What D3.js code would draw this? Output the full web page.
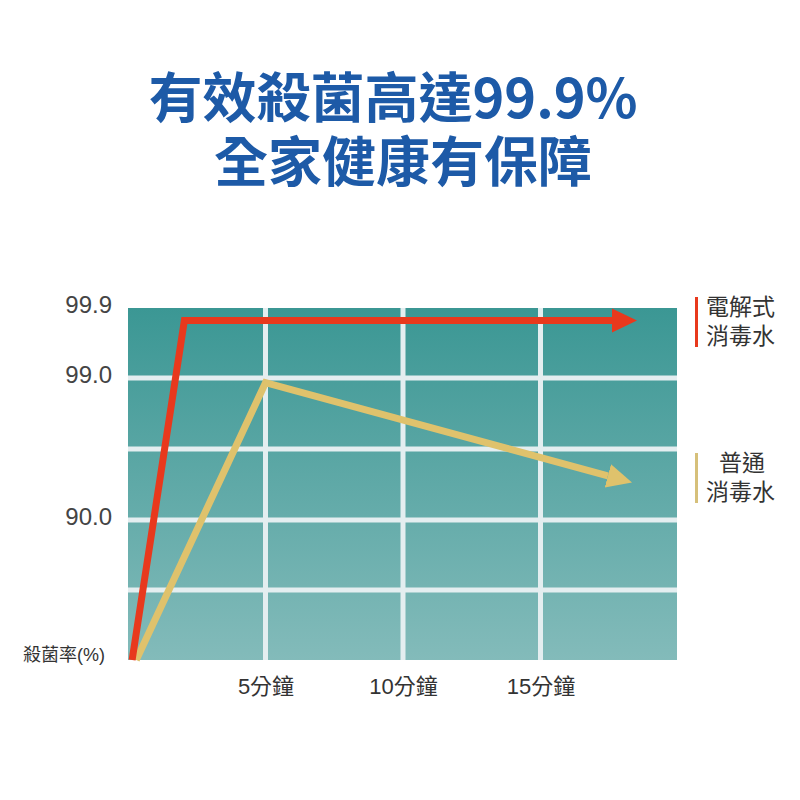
<!DOCTYPE html>
<html>
<head>
<meta charset="utf-8">
<script src="https://cdn.jsdelivr.net/npm/d3@7"></script>
<style>
  body { margin: 0; background: #fff; }
  text { font-family: "Liberation Sans", "Noto Sans CJK TC", sans-serif; }
</style>
</head>
<body>
<svg id="chart" width="800" height="800"></svg>
<script>
// data
const titleLines = ["有效殺菌高達99.9%", "全家健康有保障"];
const xTicks = [5, 10, 15];
const xTickLabels = ["5分鐘", "10分鐘", "15分鐘"];
const yLabelTicks = [90, 99, 99.9];
const yLabelText = ["90.0", "99.0", "99.9"];
const yGridTicks = [45, 90, 94.5, 99];
const yTitle = "殺菌率(%)";

const redMinutes = [0.15, 2.05, 17.6];
const redValues = [0, 99.74, 99.74];
const yellowMinutes = [0.3, 5, 17.45];
const yellowValues = [0, 98.7, 92.8];

const legendRed = ["電解式", "消毒水"];
const legendYellow = ["普通", "消毒水"];

const svg = d3.select("#chart");

var plot = {left: 128, right: 677, top: 308, bottom: 660};

// x: minutes, y: piecewise (the picture is not linear)
const x = d3.scaleLinear().domain([0, 20]).range([plot.left, 678]);
const y = d3.scaleLinear()
  .domain([0, 90, 99, 99.9])
  .range([plot.bottom, 520, 378, plot.top]);

// title
svg.selectAll(".title")
  .data(titleLines)
  .join("text")
  .attr("class", "title")
  .attr("x", (d, i) => i == 0 ? 393 : 403)
  .attr("y", (d, i) => 118 + i * 64)
  .attr("text-anchor", "middle")
  .style("font-family", '"Noto Sans CJK TC", sans-serif')
  .style("font-weight", "bold")
  .style("font-size", "54px")
  .attr("fill", "#1d5aa7")
  .text(d => d);

// background gradient
const defs = svg.append("defs");
const grad = defs.append("linearGradient")
  .attr("id", "bg").attr("x1", 0).attr("y1", 0).attr("x2", 0).attr("y2", 1);
grad.append("stop").attr("offset", "0%").attr("stop-color", "#3b9794");
grad.append("stop").attr("offset", "100%").attr("stop-color", "#83bbba");

svg.append("rect")
  .attr("x", plot.left)
  .attr("y", plot.top)
  .attr("width", plot.right - plot.left)
  .attr("height", plot.bottom - plot.top)
  .attr("fill", "url(#bg)");

// grid lines
const gridColor = "#e4eef0";
svg.append("g")
  .selectAll("line")
  .data(xTicks)
  .join("line")
  .attr("x1", d => x(d)).attr("x2", d => x(d))
  .attr("y1", plot.top).attr("y2", plot.bottom)
  .attr("stroke", gridColor)
  .attr("stroke-width", 5);

svg.append("g")
  .selectAll("line")
  .data(yGridTicks)
  .join("line")
  .attr("x1", plot.left).attr("x2", plot.right)
  .attr("y1", d => y(d)).attr("y2", d => y(d))
  .attr("stroke", gridColor)
  .attr("stroke-width", 5);

// axis labels
const yAxis = d3.axisLeft(y)
  .tickValues(yLabelTicks)
  .tickFormat((d, i) => yLabelText[i])
  .tickSize(0)
  .tickPadding(16);
const gy = svg.append("g")
  .attr("transform", "translate(" + plot.left + ",0)")
  .call(yAxis);
gy.select(".domain").remove();
gy.selectAll("text")
  .attr("dy", "0.2em")
  .style("font-size", "24px")
  .style("font-family", '"Liberation Sans", sans-serif')
  .attr("fill", "#444");

const xAxis = d3.axisBottom(x)
  .tickValues(xTicks)
  .tickFormat((d, i) => xTickLabels[i])
  .tickSize(0)
  .tickPadding(18);
const gx = svg.append("g")
  .attr("transform", "translate(0," + plot.bottom + ")")
  .call(xAxis);
gx.select(".domain").remove();
gx.selectAll("text")
  .style("font-size", "22px")
  .attr("fill", "#333");

svg.append("text")
  .attr("x", 105)
  .attr("y", 661)
  .attr("text-anchor", "end")
  .style("font-size", "18px")
  .attr("fill", "#333")
  .text(yTitle);

// arrow heads
function addArrow(id, color) {
  defs.append("marker")
    .attr("id", id)
    .attr("markerUnits", "userSpaceOnUse")
    .attr("markerWidth", 28)
    .attr("markerHeight", 28)
    .attr("refX", 0)
    .attr("refY", 12)
    .attr("orient", "auto")
    .append("path")
    .attr("d", "M0,0 L25,12 L0,24 Z")
    .attr("fill", color);
}
addArrow("arrowRed", "#e8391d");
addArrow("arrowYellow", "#dfc26c");

const line = d3.line()
  .x(d => x(d[0]))
  .y(d => y(d[1]));

svg.append("path")
  .datum(d3.zip(yellowMinutes, yellowValues))
  .attr("d", line)
  .attr("fill", "none")
  .attr("stroke", "#dfc26c")
  .attr("stroke-width", 7)
  .attr("stroke-linejoin", "miter")
  .attr("marker-end", "url(#arrowYellow)");

svg.append("path")
  .datum(d3.zip(redMinutes, redValues))
  .attr("d", line)
  .attr("fill", "none")
  .attr("stroke", "#e8391d")
  .attr("stroke-width", 7)
  .attr("stroke-linejoin", "miter")
  .attr("marker-end", "url(#arrowRed)");

// legend
function legend(lines, color, top, anchorFirst) {
  const g = svg.append("g");
  g.append("rect")
    .attr("x", 695).attr("y", top)
    .attr("width", 3).attr("height", 50)
    .attr("fill", color);
  g.selectAll("text")
    .data(lines)
    .join("text")
    .attr("x", (d, i) => (i == 0 && anchorFirst) ? 742 : 706)
    .attr("text-anchor", (d, i) => (i == 0 && anchorFirst) ? "middle" : "start")
    .attr("y", (d, i) => top + 18 + i * 29)
    .style("font-size", "23px")
    .style("font-family", '"Noto Sans CJK TC", sans-serif')
    .attr("fill", "#333")
    .text(d => d);
}
legend(legendRed, "#e8391d", 297, false);
legend(legendYellow, "#d6c07a", 453, true);
</script>
</body>
</html>
